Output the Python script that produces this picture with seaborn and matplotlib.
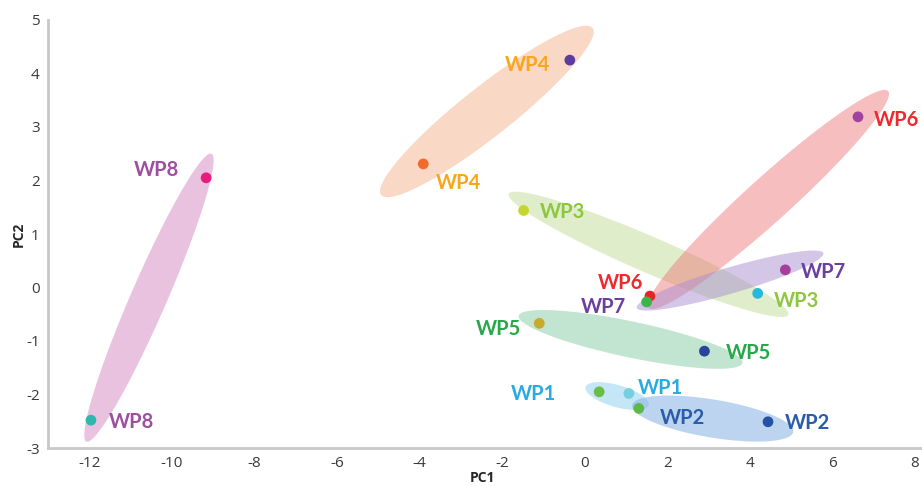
'''PCA score plot of the WP samples with group ellipses'''
import numpy as np
import pandas as pd
import seaborn as sns
import matplotlib
matplotlib.use('Agg')
import matplotlib.pyplot as plt

# sample scores (two replicates per group)
groups = ['WP8', 'WP8', 'WP4', 'WP4', 'WP3', 'WP3', 'WP6', 'WP6',
          'WP7', 'WP7', 'WP5', 'WP5', 'WP1', 'WP1', 'WP2', 'WP2']
pc1 = [-9.17, -11.96, -0.36, -3.91, -1.48, 4.19, 6.62, 1.58,
       4.86, 1.50, -1.10, 2.90, 0.35, 1.07, 1.31, 4.44]
pc2 = [2.05, -2.48, 4.25, 2.31, 1.44, -0.11, 3.19, -0.16,
       0.33, -0.27, -0.67, -1.19, -1.95, -1.98, -2.26, -2.51]
dot_colors = ['#e8197f', '#2fb7ae', '#5a3d9e', '#f26a2c', '#c5d52e', '#27b9dc', '#a0429f', '#e6252b',
              '#a43f9c', '#3cb54a', '#c9aa2c', '#27459c', '#6abd45', '#74cfe1', '#5cb947', '#2451a3']

# where each sample's label sits
label_x = [-10.37, -10.98, -1.38, -3.07, -0.53, 5.13, 7.55, 0.87,
           5.78, 0.46, -2.10, 3.97, -1.23, 1.84, 2.37, 5.40]
label_y = [2.20, -2.51, 4.16, 1.95, 1.41, -0.25, 3.13, 0.08,
           0.29, -0.36, -0.78, -1.23, -1.99, -1.88, -2.44, -2.53]
label_colors = {'WP8': '#9d4fa0', 'WP4': '#f9a61a', 'WP3': '#8dc63f', 'WP6': '#ee2a2e',
                'WP7': '#6a3fa0', 'WP5': '#27a84a', 'WP1': '#29abe2', 'WP2': '#2a5caa'}

# confidence ellipses: tips along the long axis and the short axis width (px)
ell_groups = ['WP8', 'WP4', 'WP3', 'WP6', 'WP7', 'WP5', 'WP1', 'WP2']
ell_tip1 = [(-12.07, -2.88), (-4.93, 1.73), (-1.84, 1.75), (1.55, -0.38),
            (1.26, -0.38), (-1.60, -0.53), (0.02, -1.86), (1.15, -2.20)]
ell_tip2 = [(-9.04, 2.50), (0.19, 4.85), (4.93, -0.51), (7.35, 3.67),
            (5.78, 0.64), (3.82, -1.41), (1.55, -2.20), (5.05, -2.70)]
ell_width = [36, 50, 36, 44, 26, 36, 22, 38]
ell_colors = ['#d690c4', '#f5b896', '#c2dc96', '#ee6f73', '#a98fd0', '#8fd0aa', '#9fd6f0', '#86b2e4']
ell_alpha = [0.55, 0.55, 0.5, 0.45, 0.5, 0.55, 0.6, 0.55]

df = pd.DataFrame({'PC1': pc1, 'PC2': pc2, 'sample': range(len(pc1))})

sns.set_style('white')
plt.rcParams['font.family'] = ['Open Sans', 'DejaVu Sans']
plt.rcParams['axes.unicode_minus'] = False

fig = plt.figure(figsize=(9.22, 4.86), dpi=100)
ax = fig.add_axes([48 / 922, 38 / 486, 1 - 48 / 922, 428 / 486])
ax.set_xlim(-13, 8.17)
ax.set_ylim(-3, 5)


def draw_ellipse(ax, p1, p2, width, color, alpha):
    # build the ellipse in pixel space so it keeps its shape, then map back
    a = ax.transData.transform(p1)
    b = ax.transData.transform(p2)
    c = (a + b) / 2
    d = b - a
    half = np.hypot(*d) / 2
    u = d / (2 * half)
    v = np.array([-u[1], u[0]])
    t = np.linspace(0, 2 * np.pi, 200)
    pts = c + np.outer(half * np.cos(t), u) + np.outer(width / 2 * np.sin(t), v)
    pts = ax.transData.inverted().transform(pts)
    ax.fill(pts[:, 0], pts[:, 1], color=color, alpha=alpha, lw=0, zorder=1)


for g, t1, t2, w, col, al in zip(ell_groups, ell_tip1, ell_tip2, ell_width, ell_colors, ell_alpha):
    draw_ellipse(ax, t1, t2, w, col, al)

sns.scatterplot(data=df, x='PC1', y='PC2', hue='sample', palette=dot_colors,
                s=60, edgecolor='none', legend=False, ax=ax, zorder=3)

for g, lx, ly in zip(groups, label_x, label_y):
    ax.text(lx, ly, g, color=label_colors[g], fontsize=14.5, fontweight='bold',
            family=['Lato', 'DejaVu Sans'], ha='center', va='center', zorder=4)

ax.set_xticks(np.arange(-12, 9, 2))
ax.set_yticks(np.arange(-3, 6, 1))
ax.tick_params(direction='in', length=7, width=1, color='#c4c4c4',
               labelsize=11, labelcolor='#3a3a3a', pad=6)
for side in ['top', 'right']:
    ax.spines[side].set_visible(False)
for side in ['left', 'bottom']:
    ax.spines[side].set_color('#c8c8c8')
    ax.spines[side].set_linewidth(2)

ax.set_xlabel('PC1', fontsize=10, fontweight='bold')
ax.xaxis.set_label_coords(0.497, -0.053)
ax.set_ylabel('PC2', fontsize=10, fontweight='bold')
ax.yaxis.set_label_coords(-0.026, 0.5)

fig.savefig('out.png', dpi=100)
